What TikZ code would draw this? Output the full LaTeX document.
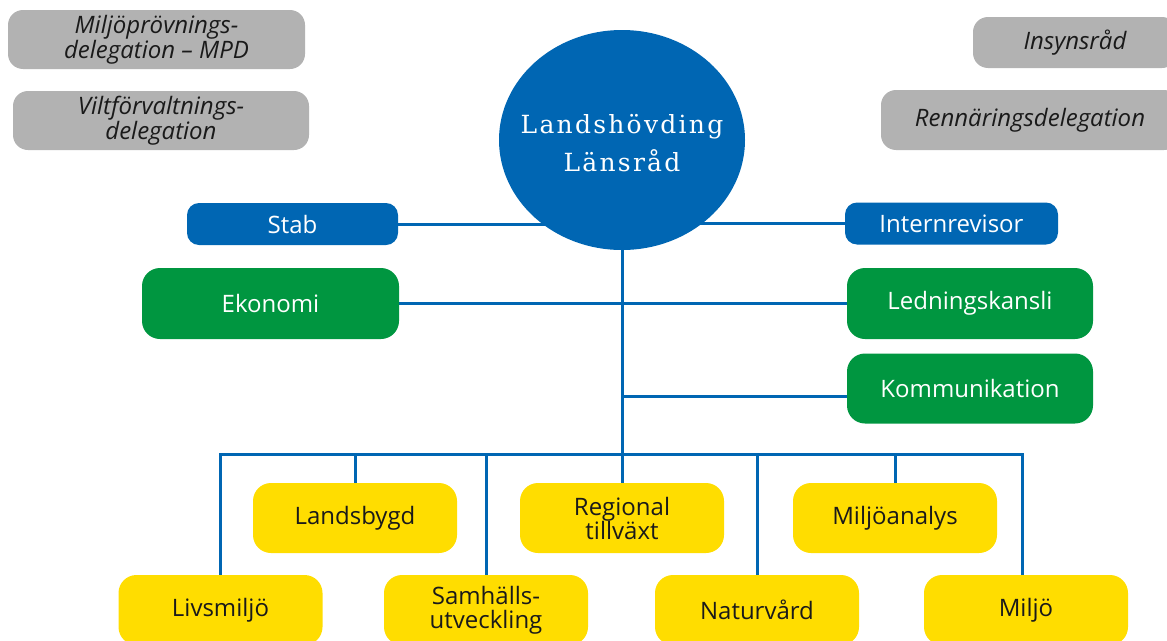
\documentclass[tikz,border=0pt]{standalone}
\usepackage{fontspec}
\setmainfont{Open Sans}
\newfontfamily\headfont[LetterSpace=9]{DejaVu Serif}
\usetikzlibrary{shapes.geometric}
\definecolor{lblue}{HTML}{0066B3}
\definecolor{lgreen}{HTML}{009640}
\definecolor{lyellow}{HTML}{FFDD00}
\definecolor{lgray}{HTML}{B2B2B2}
\definecolor{ltext}{HTML}{1A1A1A}
\pgfdeclarelayer{bg}
\pgfsetlayers{bg,main}
\begin{document}
\begin{tikzpicture}[x=1pt,y=-1pt,
  every node/.style={inner sep=0pt, align=center},
  graybox/.style={fill=lgray, rounded corners=15pt, text=ltext,
    font=\fontsize{24}{25}\selectfont\itshape},
  bluebox/.style={fill=lblue, rounded corners=12pt, text=white,
    font=\fontsize{24}{25}\selectfont, minimum height=42pt},
  greenbox/.style={fill=lgreen, rounded corners=18pt, text=white,
    font=\fontsize{24}{25}\selectfont, minimum width=246pt, minimum height=71pt},
  yellowbox/.style={fill=lyellow, rounded corners=18pt, text=ltext,
    font=\fontsize{24}{24}\selectfont, minimum width=204pt, minimum height=70pt},
  conn/.style={draw=lblue, line width=3pt, line join=miter}]
\useasboundingbox (0,0) rectangle (1167,640);

% gray boxes
\node[graybox, minimum width=297pt, minimum height=59pt] (mpd) at (156.5,39.5) {Miljöprövnings-\\delegation – MPD};
\node[graybox, minimum width=296pt, minimum height=59pt] (vilt) at (161,120.5) {Viltförvaltnings-\\delegation};
\node[graybox, minimum width=204pt, minimum height=51pt] (insyn) at (1075,42.5) {Insynsråd};
\node[graybox, minimum width=298pt, minimum height=60pt] (renn) at (1030,120) {Rennäringsdelegation};

% head
\node[ellipse, fill=lblue, minimum width=246pt, minimum height=220pt] (head) at (622,140) {};
\node[text=white, font=\headfont\fontsize{25}{38}\selectfont] (headtxt) at (622,143) {Landshövding\\Länsråd};

% staff
\node[bluebox, minimum width=211pt] (stab) at (292.5,224) {Stab};
\node[bluebox, minimum width=213pt] (intern) at (951.5,223.5) {Internrevisor};
\node[greenbox, minimum width=257pt] (ekon) at (270.5,303.5) {Ekonomi};
\node[greenbox] (led) at (970,303.5) {Ledningskansli};
\node[greenbox, minimum height=70pt] (komm) at (970,388.5) {Kommunikation};

% departments
\node[yellowbox] (lands) at (355,518) {Landsbygd};
\node[yellowbox] (reg) at (622,518) {Regional\\tillväxt};
\node[yellowbox] (mana) at (895,518) {Miljöanalys};
\node[yellowbox] (livs) at (220.5,610) {Livsmiljö};
\node[yellowbox] (samh) at (486,610) {Samhälls-\\utveckling};
\node[yellowbox] (natur) at (757,610) {Naturvård};
\node[yellowbox] (miljo) at (1026,610) {Miljö};

\coordinate (busL) at (220.5,454);
\coordinate (busR) at (1022,454);

\begin{pgfonlayer}{bg}
\draw[conn] (stab.east) -- (stab.east -| head.south);
\draw[conn] (intern.west) -- (intern.west -| head.south);
\draw[conn] (head.south) -- (reg.north);
\draw[conn] (ekon.east) -- (led.west);
\draw[conn] ([yshift=-7.5pt]komm.west) -- ([yshift=-7.5pt]komm.west -| head.south);
\draw[conn] (livs.north) -- (busL) -- (busR) -- ([xshift=-4pt]miljo.north);
\draw[conn] (lands.north) -- (lands.north |- busL);
\draw[conn] (samh.north) -- (samh.north |- busL);
\draw[conn] (natur.north) -- (natur.north |- busL);
\draw[conn] (mana.north) -- (mana.north |- busL);
\end{pgfonlayer}
\end{tikzpicture}
\end{document}
